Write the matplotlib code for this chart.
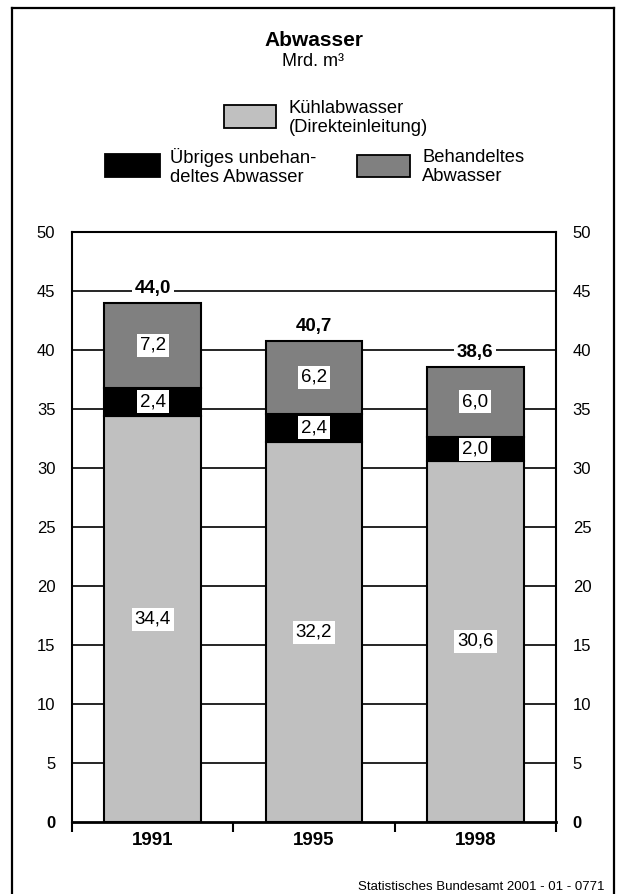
import matplotlib.pyplot as plt
from matplotlib.patches import Rectangle
from matplotlib.lines import Line2D

plt.rcParams['font.family'] = ['Liberation Sans', 'DejaVu Sans']

# data (Mrd. m3)
years = ['1991', '1995', '1998']
kuehl = [34.4, 32.2, 30.6]
uebrig = [2.4, 2.4, 2.0]
behandelt = [7.2, 6.2, 6.0]
totals = [44.0, 40.7, 38.6]
yticks = [0, 5, 10, 15, 20, 25, 30, 35, 40, 45, 50]

c_kuehl = '#c0c0c0'
c_uebrig = '#000000'
c_behand = '#808080'

W, H = 617, 894
fig = plt.figure(figsize=(W / 100, H / 100), dpi=100)

def fx(px):
    return px / W

def fy(py):
    return 1 - py / H

def de(v):
    return f'{v:.1f}'.replace('.', ',')

# outer frame (bottom edge runs off the page)
for xs, ys in [([12, 12], [8, 900]), ([12, 614], [8, 8]), ([614, 614], [8, 900])]:
    fig.add_artist(Line2D([fx(x) for x in xs], [fy(y) for y in ys], color='black', lw=1.6))

ax = fig.add_axes([fx(72), fy(822), fx(556) - fx(72), fy(232) - fy(822)])

x = list(range(len(years)))
bw = 0.6
mid = kuehl
top = [k + u for k, u in zip(kuehl, uebrig)]
ax.bar(x, kuehl, bw, color=c_kuehl, edgecolor='black', lw=1.5, zorder=3)
ax.bar(x, uebrig, bw, bottom=mid, color=c_uebrig, edgecolor='black', lw=1.5, zorder=3)
ax.bar(x, behandelt, bw, bottom=top, color=c_behand, edgecolor='black', lw=1.5, zorder=3)

box = dict(facecolor='white', edgecolor='none', pad=2.2)
fs_val = 13.5
for i in x:
    ax.text(i, kuehl[i] / 2, de(kuehl[i]), ha='center', va='center',
            fontsize=fs_val, bbox=box, zorder=5)
    ax.text(i, mid[i] + uebrig[i] / 2, de(uebrig[i]), ha='center', va='center',
            fontsize=fs_val, bbox=box, zorder=5)
    ax.text(i, top[i] + behandelt[i] / 2, de(behandelt[i]), ha='center', va='center',
            fontsize=fs_val, bbox=box, zorder=5)
    ax.text(i, top[i] + behandelt[i] + 1.2, de(totals[i]), ha='center', va='center',
            fontsize=fs_val, fontweight='bold',
            bbox=dict(facecolor='white', edgecolor='none', pad=2), zorder=5)

for v in yticks[1:-1]:
    ax.axhline(v, color='black', lw=1.2, zorder=1)

ax.set_xlim(-0.5, 2.5)
ax.set_ylim(0, 50)
ax.set_yticks(yticks)
ax.set_yticklabels([str(v) for v in yticks])
ax.tick_params(axis='y', length=0, labelsize=12, pad=12, labelright=True, right=False)
for tick in ax.yaxis.get_major_ticks():
    if tick.get_loc() == 0:
        tick.label1.set_fontweight('bold')
        tick.label2.set_fontweight('bold')

ax.set_xticks([-0.5, 0.5, 1.5, 2.5])
ax.set_xticklabels([])
ax.tick_params(axis='x', length=7, width=1.5, direction='out')
for i, yr in enumerate(years):
    ax.text(i, -1.6, yr, ha='center', va='center', fontsize=13.5, fontweight='bold')

for s in ['left', 'right', 'top']:
    ax.spines[s].set_linewidth(1.5)
ax.spines['bottom'].set_linewidth(2)

# title
fig.text(fx(314), fy(40), 'Abwasser', ha='center', va='center', fontsize=15, fontweight='bold')
fig.text(fx(313), fy(62), 'Mrd. m³', ha='center', va='center', fontsize=13)

# legend
def legend_item(x0, x1, y0, y1, color, lines, tx, ty):
    fig.add_artist(Rectangle((fx(x0), fy(y1)), fx(x1) - fx(x0), fy(y0) - fy(y1),
                             facecolor=color, edgecolor='black', lw=1.3))
    fig.text(fx(tx), fy(ty), '\n'.join(lines), ha='left', va='center',
             fontsize=13.2, linespacing=1.2)

legend_item(224, 276, 105, 128, c_kuehl, ['Kühlabwasser', '(Direkteinleitung)'], 289, 118)
legend_item(105, 160, 154, 177, c_uebrig, ['Übriges unbehan-', 'deltes Abwasser'], 170, 167)
legend_item(357, 410, 155, 177, c_behand, ['Behandeltes', 'Abwasser'], 422, 167)

fig.text(fx(605), fy(887), 'Statistisches Bundesamt 2001 - 01 - 0771', ha='right',
         va='center', fontsize=9.5)

fig.savefig('out.png', dpi=100)
